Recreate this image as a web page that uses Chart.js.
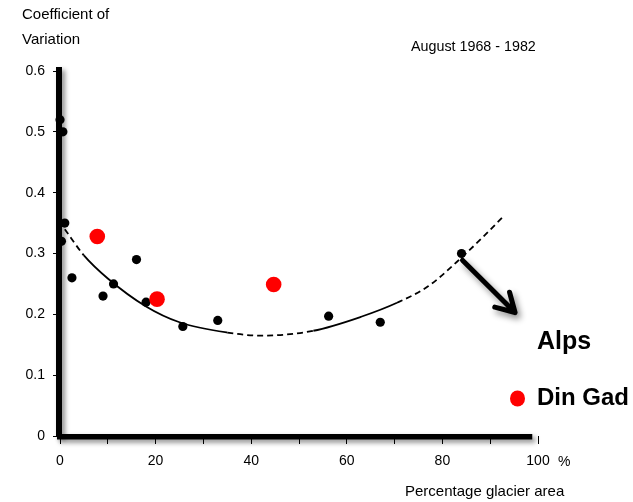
<!DOCTYPE html>
<html>
<head>
<meta charset="utf-8">
<script src="https://cdn.jsdelivr.net/npm/chart.js@4.4.1/dist/chart.umd.min.js"></script>
<style>
  html, body { margin: 0; padding: 0; background: #ffffff; }
  #wrap { width: 633px; height: 502px; }
</style>
</head>
<body>
<div id="wrap"><canvas id="c" width="633" height="502"></canvas></div>
<script>
// Alpine basins: coefficient of variation vs percentage glacier area
const alpsX = [0, 0.6, 0.3, 1, 2.5, 9, 11.2, 16, 18, 25.7, 33, 56.2, 67, 84];
const alpsY = [0.52, 0.50, 0.32, 0.35, 0.26, 0.23, 0.25, 0.29, 0.22, 0.18, 0.19, 0.197, 0.187, 0.30];

// Din Gad catchment
const dinGadX = [7.8, 20.3, 44.7];
const dinGadY = [0.328, 0.225, 0.249];

// Hand-drawn trend curve through the Alps data
const trendX = [1, 5, 10, 18, 25, 35, 42, 53, 63, 70.5, 77, 83, 88.6, 93];
const trendY = [0.340, 0.297, 0.259, 0.213, 0.187, 0.170, 0.165, 0.173, 0.196, 0.219, 0.246, 0.286, 0.328, 0.363];
// stretches of the curve drawn solid (by x-range); the rest is dashed
const solidRanges = [[5, 35], [53, 70.5]];

// Axis ticks
const xTickValues = [0, 20, 40, 60, 80, 100];
const xTickLabels = ['0', '20', '40', '60', '80', '100'];
const yTickValues = [0, 0.1, 0.2, 0.3, 0.4, 0.5, 0.6];
const yTickLabels = ['0', '0.1', '0.2', '0.3', '0.4', '0.5', '0.6'];

// Arrow from the 84 % basin toward the "Alps" label (data coordinates)
const arrowFrom = [84.2, 0.289];
const arrowTo = [95.2, 0.203];

const FONT = "'Liberation Sans', Arial, Helvetica, sans-serif";

const toPts = (xs, ys) => xs.map((x, i) => ({ x: x, y: ys[i] }));

function isSolid(x) {
  return solidRanges.some(r => x >= r[0] - 1e-9 && x < r[1] - 1e-9);
}

// thick hand-drawn axes with a soft shadow
const thickAxes = {
  id: 'thickAxes',
  beforeDatasetsDraw(chart) {
    const { ctx, scales } = chart;
    const x = scales.x, y = scales.y;
    const left = x.getPixelForValue(0) - 1;
    const bottom = y.getPixelForValue(0);
    ctx.save();
    ctx.shadowColor = 'rgba(0,0,0,0.45)';
    ctx.shadowBlur = 5;
    ctx.shadowOffsetX = 3;
    ctx.shadowOffsetY = 3;
    ctx.fillStyle = '#000';
    // vertical axis
    ctx.fillRect(left - 3, y.getPixelForValue(0.6) - 4, 6, bottom - y.getPixelForValue(0.6) + 5);
    // horizontal axis
    ctx.fillRect(left - 2, bottom - 2, x.getPixelForValue(98.8) - left + 2, 5.5);
    ctx.restore();
  }
};

// arrow, texts and legend entries
const annotations = {
  id: 'annotations',
  afterDatasetsDraw(chart) {
    const { ctx, scales } = chart;
    const x = scales.x, y = scales.y;
    const x0 = x.getPixelForValue(arrowFrom[0]), y0 = y.getPixelForValue(arrowFrom[1]);
    const x1 = x.getPixelForValue(arrowTo[0]), y1 = y.getPixelForValue(arrowTo[1]);
    const ang = Math.atan2(y1 - y0, x1 - x0);
    const head = 21, spread = Math.PI / 6;
    ctx.save();
    ctx.shadowColor = 'rgba(0,0,0,0.45)';
    ctx.shadowBlur = 6;
    ctx.shadowOffsetX = 3;
    ctx.shadowOffsetY = 4;
    ctx.strokeStyle = '#000';
    ctx.lineWidth = 5;
    ctx.lineCap = 'round';
    ctx.lineJoin = 'round';
    ctx.beginPath();
    ctx.moveTo(x0, y0);
    ctx.lineTo(x1, y1);
    ctx.moveTo(x1 + head * Math.cos(ang + Math.PI - spread), y1 + head * Math.sin(ang + Math.PI - spread));
    ctx.lineTo(x1, y1);
    ctx.lineTo(x1 + head * Math.cos(ang + Math.PI + spread), y1 + head * Math.sin(ang + Math.PI + spread));
    ctx.stroke();
    ctx.restore();

    ctx.save();
    ctx.fillStyle = '#000';
    ctx.textBaseline = 'middle';
    ctx.textAlign = 'left';
    ctx.font = '15px ' + FONT;
    ctx.fillText('Coefficient of', 22, 15);
    ctx.fillText('Variation', 22, 40);
    ctx.fillText('Percentage glacier area', 405, 492);
    ctx.font = '14.3px ' + FONT;
    ctx.fillText('August 1968 - 1982', 411, 47);
    ctx.font = '14px ' + FONT;
    ctx.fillText('%', 558, 462);

    // legend
    ctx.font = 'bold 25px ' + FONT;
    ctx.fillText(chart.data.datasets[1].label, 537, 342);
    ctx.font = 'bold 24px ' + FONT;
    ctx.fillText(chart.data.datasets[2].label, 537, 398);
    ctx.fillStyle = '#ff0000';
    ctx.beginPath();
    ctx.ellipse(517.5, 398.5, 7.5, 8, 0, 0, Math.PI * 2);
    ctx.fill();
    ctx.restore();
  }
};

new Chart(document.getElementById('c'), {
  type: 'scatter',
  data: {
    datasets: [
      {
        label: 'Trend',
        type: 'line',
        data: toPts(trendX, trendY),
        borderColor: '#000',
        borderWidth: 1.8,
        borderDash: [6, 4],
        pointRadius: 0,
        cubicInterpolationMode: 'monotone',
        fill: false,
        segment: {
          borderDash: c => isSolid(c.p0.parsed.x) ? [] : [6, 4]
        },
        order: 3
      },
      {
        label: 'Alps',
        data: toPts(alpsX, alpsY),
        backgroundColor: '#000',
        borderColor: '#000',
        pointRadius: 4.6,
        borderWidth: 0,
        clip: false,
        order: 2
      },
      {
        label: 'Din Gad',
        data: toPts(dinGadX, dinGadY),
        backgroundColor: '#ff0000',
        borderColor: '#ff0000',
        pointRadius: 7.8,
        borderWidth: 0,
        clip: false,
        order: 1
      }
    ]
  },
  options: {
    responsive: false,
    animation: false,
    layout: { padding: { left: 0, top: 71, right: 95, bottom: 0 } },
    plugins: { legend: { display: false }, tooltip: { enabled: false } },
    scales: {
      x: {
        type: 'linear',
        min: 0,
        max: 100,
        afterFit: s => { s.height = 66; },
        afterBuildTicks: s => { s.ticks = [0,10,20,30,40,50,60,70,80,90,100].map(v => ({ value: v })); },
        border: { display: false },
        grid: { drawOnChartArea: false, drawTicks: true, tickLength: 8, color: '#000', lineWidth: 1 },
        ticks: {
          color: '#000',
          font: { family: FONT, size: 14 },
          padding: 9,
          maxRotation: 0,
          autoSkip: false,
          callback: v => { const i = xTickValues.indexOf(v); return i >= 0 ? xTickLabels[i] : ''; }
        }
      },
      y: {
        min: 0,
        max: 0.6,
        afterFit: s => { s.width = 60; },
        afterBuildTicks: s => { s.ticks = yTickValues.map(v => ({ value: v })); },
        border: { display: false },
        grid: { drawOnChartArea: false, drawTicks: true, tickLength: 7, color: '#000', lineWidth: 1 },
        ticks: {
          color: '#000',
          font: { family: FONT, size: 14 },
          padding: 8,
          autoSkip: false,
          callback: v => {
            const i = yTickValues.findIndex(t => Math.abs(t - v) < 1e-9);
            return i >= 0 ? yTickLabels[i] : '';
          }
        }
      }
    }
  },
  plugins: [thickAxes, annotations]
});
</script>
</body>
</html>
